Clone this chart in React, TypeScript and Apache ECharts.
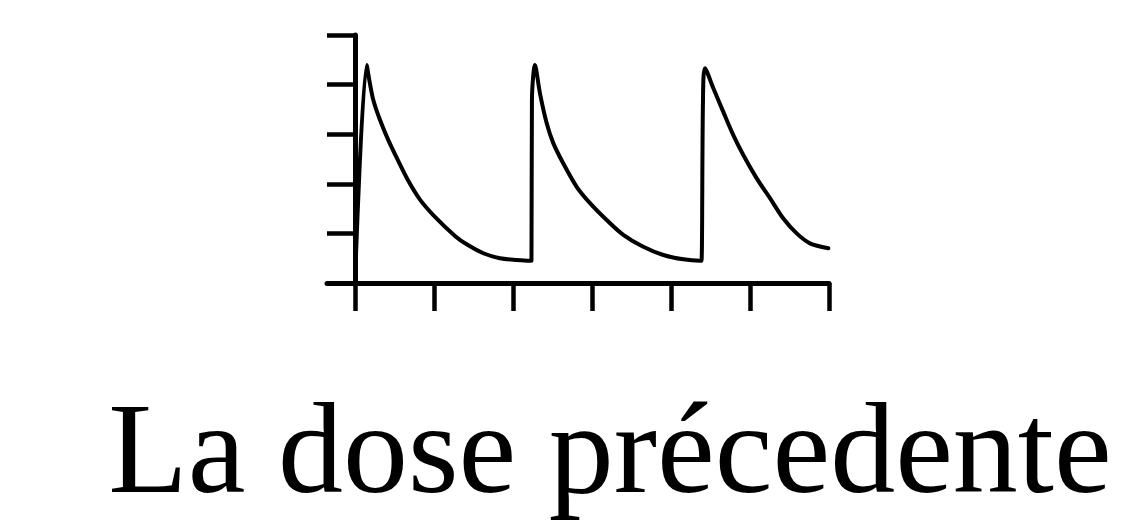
import React, { useEffect, useRef } from "react";
import * as echarts from "echarts";

// Concentration curve (x: time in dose intervals, y: level)
const cycle1: [number, number][] = [
  [0, 0], [0.148, 4.395], [0.184, 4.07], [0.232, 3.69], [0.316, 3.29], [0.422, 2.88],
  [0.548, 2.46], [0.675, 2.06], [0.823, 1.68], [0.991, 1.37], [1.266, 0.95],
  [1.414, 0.78], [1.624, 0.6], [1.835, 0.5], [2.047, 0.464], [2.215, 0.45],
];
const cycle2: [number, number][] = [
  [2.234, 0.45], [2.24, 3.69], [2.278, 4.395], [2.342, 3.82], [2.427, 3.22], [2.51, 2.82],
  [2.637, 2.41], [2.806, 1.94], [2.975, 1.61], [3.186, 1.27], [3.396, 0.97],
  [3.649, 0.73], [3.903, 0.565], [4.156, 0.478], [4.367, 0.45],
];
const cycle3: [number, number][] = [
  [4.386, 0.45], [4.405, 3.69], [4.43, 4.33], [4.535, 3.93], [4.662, 3.45], [4.789, 2.98],
  [4.915, 2.58], [5.085, 2.11], [5.253, 1.71], [5.422, 1.3], [5.591, 1.0],
  [5.759, 0.8], [5.991, 0.7],
];
const xTicks = [0, 1, 2, 3, 4, 5, 6];
const yTicks = [0, 1, 2, 3, 4, 5];
const titleText = "La dose précedente";

export default function App() {
  const ref = useRef<HTMLDivElement>(null);
  useEffect(() => {
    if (!ref.current) return;
    const chart = echarts.init(ref.current, null, { renderer: "svg" });
    const data = [...cycle1, ...cycle2, ...cycle3];
    chart.setOption({
      animation: false,
      backgroundColor: "#ffffff",
      grid: { left: 327, right: 297, top: 35, bottom: 237, containLabel: false },
      xAxis: {
        type: "value",
        min: -0.354,
        max: 6,
        axisLine: { onZero: true, lineStyle: { color: "#000", width: 5 } },
        axisTick: { show: true, inside: false, length: 28, customValues: xTicks, lineStyle: { color: "#000", width: 4.5 } },
        axisLabel: { show: false, customValues: xTicks },
        splitLine: { show: false },
      },
      yAxis: {
        type: "value",
        min: 0,
        max: 5,
        interval: 1,
        axisLine: { show: true, onZero: true, lineStyle: { color: "#000", width: 5 } },
        axisTick: { show: true, inside: false, length: 28, customValues: yTicks, lineStyle: { color: "#000", width: 4.5 } },
        axisLabel: { show: false },
        splitLine: { show: false },
      },
      series: [
        {
          type: "line",
          data,
          showSymbol: false,
          smooth: 0.3,
          lineStyle: { color: "#000", width: 4, join: "round", cap: "round" },
        },
      ],
      graphic: [
        {
          type: "text",
          x: 610,
          y: 448,
          style: {
            text: titleText,
            fill: "#000",
            fontSize: 130,
            fontFamily: "Liberation Serif",
            lineHeight: 100,
            align: "center",
            verticalAlign: "middle",
          },
        },
      ],
    });
    return () => chart.dispose();
  }, []);
  return (
    <div
      ref={ref}
      style={{ position: "absolute", left: 0, top: 0, width: 1126, height: 520 }}
    />
  );
}
